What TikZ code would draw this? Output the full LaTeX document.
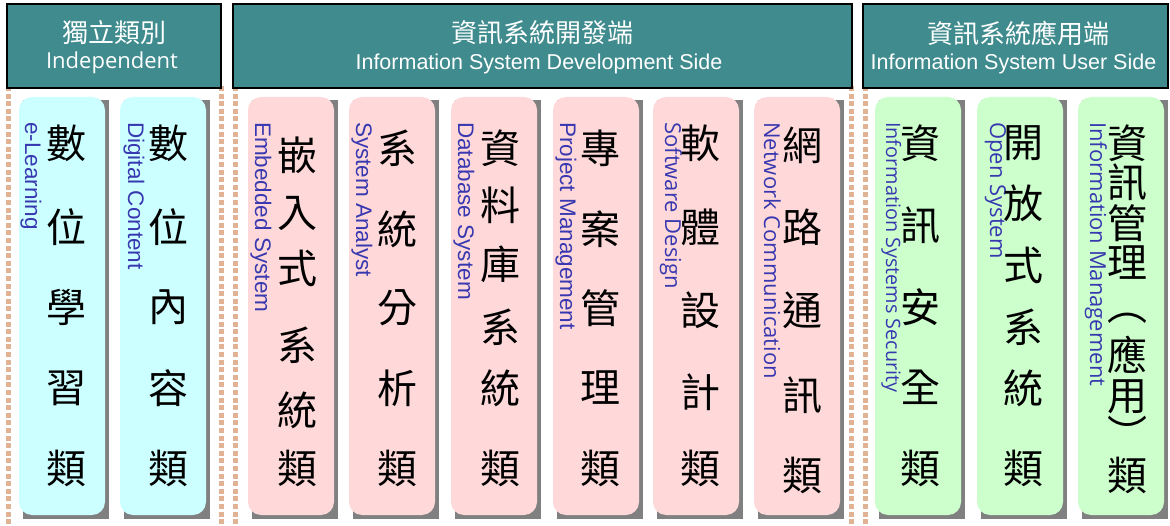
\documentclass[tikz,border=0pt]{standalone}
\usepackage{fontspec}
\setmainfont{Liberation Sans}
\newfontfamily\cjk{Noto Sans CJK TC}
\newfontfamily\osans{Open Sans}
\definecolor{headteal}{RGB}{63,139,142}
\definecolor{dotclr}{RGB}{226,178,148}
\definecolor{labblue}{RGB}{56,56,176}
\definecolor{cyanbox}{RGB}{204,255,255}
\definecolor{pinkbox}{RGB}{255,217,217}
\definecolor{greenbox}{RGB}{204,255,204}
\definecolor{shadowgray}{RGB}{128,128,128}
\tikzset{
  header/.style={draw=black, line width=1.5pt, fill=headteal},
  htxtc/.style={text=white, inner sep=0pt, font=\cjk\fontsize{26}{26}\selectfont},
  htxte/.style={text=white, inner sep=0pt, anchor=base, font=\fontsize{21.5}{21.5}\selectfont},
  dotline/.style={draw=dotclr, line width=5pt, dash pattern=on 5pt off 2.6pt},
  shadowbox/.style={fill=shadowgray},
  colbox/.style={rounded corners=13pt},
  chr/.style={inner sep=0pt, text=black, font=\cjk\fontsize{40}{40}\selectfont},
  lab/.style={inner sep=0pt, text=labblue, rotate=-90, anchor=base west, font=\fontsize{22.5}{22.5}\selectfont},
  labo/.style={lab, font=\osans\fontsize{22}{22}\selectfont}
}
\newcommand{\colbg}[2]{%
  \fill[shadowbox] (#1+3.5,100) rectangle (#1+89.5,519);
  \fill[colbox, fill=#2] (#1,97) rectangle (#1+86,515);
}
\begin{document}
\begin{tikzpicture}[x=1pt,y=-1pt]
\useasboundingbox (0,0) rectangle (1170,526);
\fill[white] (0,0) rectangle (1170,526);

% dotted separators
\draw[dotline] (8,86) -- (8,526);
\draw[dotline] (221,86) -- (221,526);
\draw[dotline] (235,86) -- (235,526);
\draw[dotline] (851,86) -- (851,526);
\draw[dotline] (865,86) -- (865,526);

% headers
\draw[header] (7,4) rectangle (221,88);
\node[htxtc] (h1c) at (114,33) {獨立類別};
\node[htxte, font=\osans\fontsize{22}{22}\selectfont] (h1e) at (112,69) {Independent};

\draw[header] (233,4) rectangle (852,88);
\node[htxtc] (h2c) at (542.5,33) {資訊系統開發端};
\node[htxte] (h2e) at (539,70) {Information System Development Side};

\draw[header] (863,4) rectangle (1168,88);
\node[htxtc] (h3c) at (1018,33) {資訊系統應用端};
\node[htxte] (h3e) at (1013.5,70) {Information System User Side};

% column backgrounds
\colbg{19}{cyanbox}
\colbg{120}{cyanbox}
\colbg{248}{pinkbox}
\colbg{349}{pinkbox}
\colbg{451}{pinkbox}
\colbg{553}{pinkbox}
\colbg{653}{pinkbox}
\colbg{754}{pinkbox}
\colbg{875}{greenbox}
\colbg{977}{greenbox}
\colbg{1078}{greenbox}

% column 1: e-Learning
\node[lab] (l1) at (25,122) {e-Learning};
\node[chr] (c1a) at (66,143) {數};
\node[chr] (c1b) at (66,227) {位};
\node[chr] (c1c) at (66,307) {學};
\node[chr] (c1d) at (66,388) {習};
\node[chr] (c1e) at (66,468) {類};

% column 2: Digital Content
\node[lab] (l2) at (128,122) {Digital Content};
\node[chr] (c2a) at (168,143) {數};
\node[chr] (c2b) at (168,227) {位};
\node[chr] (c2c) at (168,307) {內};
\node[chr] (c2d) at (168,388) {容};
\node[chr] (c2e) at (168,468) {類};

% column 3: Embedded System
\node[lab] (l3) at (255,122) {Embedded System};
\node[chr] (c3a) at (297,155) {嵌};
\node[chr] (c3b) at (297,213) {入};
\node[chr] (c3c) at (297,268) {式};
\node[chr] (c3d) at (297,345) {系};
\node[chr] (c3e) at (297,410) {統};
\node[chr] (c3f) at (297,468) {類};

% column 4: System Analyst
\node[lab] (l4) at (356,122) {System Analyst};
\node[chr] (c4a) at (397,148) {系};
\node[chr] (c4b) at (397,229) {統};
\node[chr] (c4c) at (397,308) {分};
\node[chr] (c4d) at (397,388) {析};
\node[chr] (c4e) at (397,468) {類};

% column 5: Database System
\node[lab] (l5) at (458,122) {Database System};
\node[chr] (c5a) at (500,148) {資};
\node[chr] (c5b) at (500,205) {料};
\node[chr] (c5c) at (500,264) {庫};
\node[chr] (c5d) at (500,327) {系};
\node[chr] (c5e) at (500,388) {統};
\node[chr] (c5f) at (500,468) {類};

% column 6: Project Management
\node[lab] (l6) at (560,122) {Project Management};
\node[chr] (c6a) at (600,148) {專};
\node[chr] (c6b) at (600,229) {案};
\node[chr] (c6c) at (600,308) {管};
\node[chr] (c6d) at (600,388) {理};
\node[chr] (c6e) at (600,468) {類};

% column 7: Software Design
\node[labo] (l7) at (665,122) {Software Design};
\node[chr] (c7a) at (700,143) {軟};
\node[chr] (c7b) at (700,227) {體};
\node[chr] (c7c) at (700,310) {設};
\node[chr] (c7d) at (700,392) {計};
\node[chr] (c7e) at (700,468) {類};

% column 8: Network Communication
\node[labo] (l8) at (764,122) {Network Communication};
\node[chr] (c8a) at (802,145) {網};
\node[chr] (c8b) at (802,227) {路};
\node[chr] (c8c) at (802,310) {通};
\node[chr] (c8d) at (802,395) {訊};
\node[chr] (c8e) at (802,475) {類};

% column 9: Information Systems Security
\node[labo, font=\osans\fontsize{19.8}{19.8}\selectfont] (l9) at (886,122) {Information Systems Security};
\node[chr] (c9a) at (920,143) {資};
\node[chr] (c9b) at (920,225) {訊};
\node[chr] (c9c) at (920,307) {安};
\node[chr] (c9d) at (920,387) {全};
\node[chr] (c9e) at (920,468) {類};

% column 10: Open System
\node[labo] (l10) at (990,122) {Open System};
\node[chr] (c10a) at (1023,143) {開};
\node[chr] (c10b) at (1023,203) {放};
\node[chr] (c10c) at (1023,265) {式};
\node[chr] (c10d) at (1023,327) {系};
\node[chr] (c10e) at (1023,388) {統};
\node[chr] (c10f) at (1023,468) {類};

% column 11: Information Management
\node[labo] (l11) at (1090,122) {Information Management};
\node[chr] (c11a) at (1127,143) {資};
\node[chr] (c11b) at (1127,182) {訊};
\node[chr] (c11c) at (1127,223) {管};
\node[chr] (c11d) at (1127,263) {理};
\node[chr] (c11e) at (1127,318) {︵};
\node[chr] (c11f) at (1127,355) {應};
\node[chr] (c11g) at (1127,397) {用};
\node[chr] (c11h) at (1127,433) {︶};
\node[chr] (c11i) at (1127,475) {類};
\end{tikzpicture}
\end{document}
